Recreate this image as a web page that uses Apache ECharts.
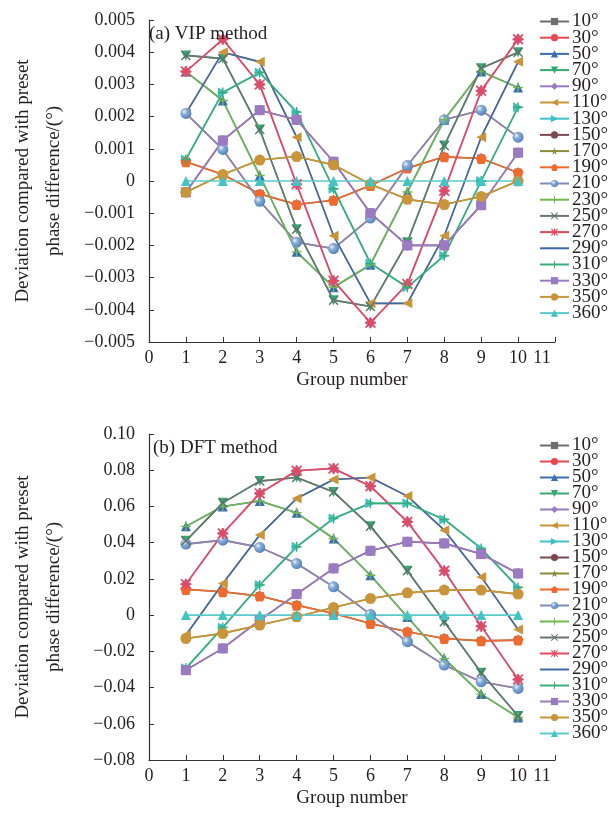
<!DOCTYPE html>
<html>
<head>
<meta charset="utf-8">
<script src="https://cdn.jsdelivr.net/npm/echarts@6/dist/echarts.min.js"></script>
<style>
  html, body { margin: 0; padding: 0; background: #fff; }
  #chart { width: 613px; height: 814px; }
</style>
</head>
<body>
<div id="chart"></div>
<script>
// Group numbers on the x axis
const groups = [1, 2, 3, 4, 5, 6, 7, 8, 9, 10];
// Preset phase differences (one series each)
const phaseNames = ['10°', '30°', '50°', '70°', '90°', '110°', '130°', '150°', '170°', '190°',
  '210°', '230°', '250°', '270°', '290°', '310°', '330°', '350°', '360°'];

// (a) VIP method: deviation per group; phases 180° apart give the same curve
const vip10_190 = [0.0006, 0.0002, -0.0004, -0.00073, -0.0006, -0.00014, 0.0004, 0.00075, 0.0007, 0.00026];
const vip30_210 = [0.0021, 0.00098, -0.00063, -0.0019, -0.0021, -0.00115, 0.00048, 0.0019, 0.0022, 0.00136];
const vip50_230 = [0.0034, 0.0025, 0.00017, -0.0022, -0.0033, -0.0026, -0.00034, 0.0019, 0.0034, 0.0029];
const vip70_250 = [0.0039, 0.0038, 0.0016, -0.0015, -0.0037, -0.0039, -0.0019, 0.0011, 0.0035, 0.0040];
const vip90_270 = [0.0034, 0.0044, 0.0030, -0.0001, -0.0031, -0.0044, -0.0032, -0.0003, 0.0028, 0.0044];
const vip110_290 = [0.0021, 0.0040, 0.0037, 0.00136, -0.0017, -0.0038, -0.0038, -0.0017, 0.00136, 0.0037];
const vip130_310 = [0.00067, 0.00275, 0.00337, 0.00214, -0.00024, -0.00256, -0.0033, -0.00232, 0.0000, 0.00229];
const vip150_330 = [-0.00035, 0.00126, 0.0022, 0.0019, 0.0006, -0.0010, -0.0020, -0.0020, -0.00075, 0.00088];
const vip170_350 = [-0.00035, 0.0002, 0.00065, 0.00076, 0.0005, -0.0001, -0.00057, -0.00073, -0.00048, 0.0000];
const vip360 = [0, 0, 0, 0, 0, 0, 0, 0, 0, 0];

// (b) DFT method
const dft10_190 = [0.0142, 0.0129, 0.0105, 0.0055, 0.0009, -0.0046, -0.0092, -0.0129, -0.0142, -0.0138];
const dft30_210 = [0.0392, 0.0414, 0.0374, 0.0285, 0.0156, 0.0004, -0.0147, -0.0276, -0.0368, -0.0405];
const dft50_230 = [0.049, 0.060, 0.063, 0.0565, 0.0423, 0.022, -0.001, -0.024, -0.0436, -0.0565];
const dft70_250 = [0.041, 0.062, 0.074, 0.076, 0.068, 0.049, 0.0245, -0.0037, -0.0318, -0.0557];
const dft90_270 = [0.0171, 0.0451, 0.0672, 0.0797, 0.081, 0.0712, 0.0515, 0.0245, -0.0061, -0.0355];
const dft110_290 = [-0.011, 0.0175, 0.0442, 0.0644, 0.0749, 0.076, 0.0657, 0.0469, 0.0211, -0.0079];
const dft130_310 = [-0.0294, -0.0068, 0.0166, 0.0377, 0.0534, 0.0617, 0.0617, 0.0528, 0.0368, 0.0153];
const dft150_330 = [-0.0304, -0.0184, -0.0028, 0.0116, 0.0258, 0.0355, 0.0405, 0.0396, 0.0337, 0.023];
const dft170_350 = [-0.0129, -0.0101, -0.0055, -0.0009, 0.0042, 0.0092, 0.0123, 0.0138, 0.0138, 0.0116];
const dft360 = [0, 0, 0, 0, 0, 0, 0, 0, 0, 0];

// Axis tick labels
const xTickLabels = ['0', '1', '2', '3', '4', '5', '6', '7', '8', '9', '10', '11'];
const vipTickLabels = ['−0.005', '−0.004', '−0.003', '−0.002', '−0.001', '0', '0.001', '0.002', '0.003', '0.004', '0.005'];
const dftTickLabels = ['−0.08', '−0.06', '−0.04', '−0.02', '0', '0.02', '0.04', '0.06', '0.08', '0.10'];

const vipSeriesData = [vip10_190, vip30_210, vip50_230, vip70_250, vip90_270, vip110_290, vip130_310, vip150_330, vip170_350,
  vip10_190, vip30_210, vip50_230, vip70_250, vip90_270, vip110_290, vip130_310, vip150_330, vip170_350, vip360];
const dftSeriesData = [dft10_190, dft30_210, dft50_230, dft70_250, dft90_270, dft110_290, dft130_310, dft150_330, dft170_350,
  dft10_190, dft30_210, dft50_230, dft70_250, dft90_270, dft110_290, dft130_310, dft150_330, dft170_350, dft360];

// Marker shapes
const SYM = {
  triDown: 'path://M0,0 L10,0 L5,10 Z',
  triLeft: 'path://M0,5 L10,0 L10,10 Z',
  triRight: 'path://M0,0 L10,5 L0,10 Z',
  star: 'path://M5,0 L6.2,3.6 L10,3.6 L6.9,5.9 L8.1,9.5 L5,7.3 L1.9,9.5 L3.1,5.9 L0,3.6 L3.8,3.6 Z',
  pentagon: 'path://M5,0 L10,3.8 L8.1,10 L1.9,10 L0,3.8 Z',
  plus: 'path://M4.3,0 H5.7 V4.3 H10 V5.7 H5.7 V10 H4.3 V5.7 H0 V4.3 H4.3 Z',
  cross: 'path://M1,0 L5,4 L9,0 L10,1 L6,5 L10,9 L9,10 L5,6 L1,10 L0,9 L4,5 L0,1 Z',
  asterisk: 'path://M4.2,0H5.8V10H4.2Z M0,4.2H10V5.8H0Z M1.1,0L10,8.9L8.9,10L0,1.1Z M8.9,0L10,1.1L1.1,10L0,8.9Z'
};

const shadedBlue = {
  type: 'radial', x: 0.35, y: 0.35, r: 0.75,
  colorStops: [{ offset: 0, color: '#eef4fb' }, { offset: 0.35, color: '#86acd6' }, { offset: 1, color: '#4a7db8' }]
};

// Per-series appearance, same order as phaseNames (290° is a plain line)
const styles = [
  { line: '#6e6e6e', mark: '#6e6e6e', symbol: 'rect', size: 8 },
  { line: '#e8474f', mark: '#e8474f', symbol: 'circle', size: 10 },
  { line: '#3b6db3', mark: '#3b6db3', symbol: 'triangle', size: 10 },
  { line: '#36a973', mark: '#36a973', symbol: SYM.triDown, size: 10 },
  { line: '#9a7bc2', mark: '#9a7bc2', symbol: 'diamond', size: 11 },
  { line: '#c8953a', mark: '#c8953a', symbol: SYM.triLeft, size: 10 },
  { line: '#3ec2c4', mark: '#3ec2c4', symbol: SYM.triRight, size: 10 },
  { line: '#7a4a4e', mark: '#7a4a4e', symbol: 'circle', size: 10 },
  { line: '#8c8a3a', mark: '#8c8a3a', symbol: SYM.star, size: 11 },
  { line: '#f06a2e', mark: '#f06a2e', symbol: SYM.pentagon, size: 11 },
  { line: '#7d8db8', mark: shadedBlue, symbol: 'circle', size: 11 },
  { line: '#72b84e', mark: '#72b84e', symbol: SYM.plus, size: 10 },
  { line: '#6b7570', mark: '#5f7068', symbol: SYM.cross, size: 10 },
  { line: '#e5485c', mark: '#e5485c', symbol: SYM.asterisk, size: 11 },
  { line: '#3c6aa8', mark: 'rgba(0,0,0,0)', symbol: 'circle', size: 1 },
  { line: '#3aad77', mark: '#3aad77', symbol: SYM.plus, size: 10 },
  { line: '#9a7bc2', mark: '#9a7bc2', symbol: 'rect', size: 10 },
  { line: '#c8953a', mark: '#c8953a', symbol: 'circle', size: 11 },
  { line: '#5ccacb', mark: '#44c3c5', symbol: 'triangle', size: 10 }
];

const FONT = '"Liberation Serif", "DejaVu Serif", serif';
const TEXT = '#231f20';

function buildSeries(axisIndex, seriesData) {
  return phaseNames.map(function (name, i) {
    const st = styles[i];
    return {
      name: name,
      type: 'line',
      xAxisIndex: axisIndex,
      yAxisIndex: axisIndex,
      data: groups.map(function (g, j) { return [g, seriesData[i][j]]; }),
      symbol: st.symbol,
      symbolSize: st.size,
      showAllSymbol: true,
      lineStyle: { color: st.line, width: 1.6 },
      itemStyle: { color: st.mark },
      emphasis: { disabled: true },
      animation: false
    };
  });
}

function tickFormatter(labels, min, step) {
  return function (v) {
    const idx = Math.round((v - min) / step);
    return labels[idx] !== undefined ? labels[idx] : '';
  };
}

function xAxisCfg(gridIndex) {
  return {
    type: 'value', gridIndex: gridIndex, min: 0, max: 11, interval: 1,
    name: 'Group number', nameLocation: 'middle', nameGap: 29,
    nameTextStyle: { fontFamily: FONT, fontSize: 19, color: TEXT },
    axisLine: { show: true, onZero: false, lineStyle: { color: '#333', width: 1.2 } },
    axisTick: { show: true, inside: true, length: 5, lineStyle: { color: '#333' } },
    axisLabel: {
      fontFamily: FONT, fontSize: 18, color: TEXT, margin: 7,
      formatter: function (v) {
        const i = Math.round(v);
        return i === xTickLabels.length - 1 ? '{last|' + xTickLabels[i] + '}' : xTickLabels[i];
      },
      rich: { last: { fontFamily: FONT, fontSize: 18, color: TEXT, padding: [0, 26, 0, 0] } }
    },
    splitLine: { show: false }
  };
}

function yAxisCfg(gridIndex, min, max, step, labels) {
  return {
    type: 'value', gridIndex: gridIndex, min: min, max: max, interval: step,
    name: 'Deviation compared with preset\nphase difference/(°)',
    nameLocation: 'middle', nameRotate: 90, nameGap: 79,
    nameTextStyle: { fontFamily: FONT, fontSize: 19, color: TEXT, lineHeight: 31, align: 'center' },
    axisLine: { show: true, onZero: false, lineStyle: { color: '#333', width: 1.2 } },
    axisTick: { show: true, inside: true, length: 5, lineStyle: { color: '#333' } },
    axisLabel: { fontFamily: FONT, fontSize: 18, color: TEXT, margin: 14,
      formatter: tickFormatter(labels, min, step) },
    splitLine: { show: false }
  };
}

function legendCfg(top, gap) {
  return {
    orient: 'vertical', left: 539, top: top, padding: 0, itemGap: gap,
    itemWidth: 29, itemHeight: 9,
    data: phaseNames,
    selectedMode: false,
    textStyle: { fontFamily: FONT, fontSize: 19, lineHeight: 19, color: TEXT, padding: [0, 0, 0, -2] }
  };
}

const chart = echarts.init(document.getElementById('chart'), null, { renderer: 'canvas' });
chart.setOption({
  backgroundColor: '#ffffff',
  animation: false,
  title: [
    { text: '(a) VIP method', left: 144, top: 20, textStyle: { fontFamily: FONT, fontSize: 19, fontWeight: 'normal', color: TEXT } },
    { text: '(b) DFT method', left: 148, top: 434, textStyle: { fontFamily: FONT, fontSize: 19, fontWeight: 'normal', color: TEXT } }
  ],
  grid: [
    { left: 141, top: 20, width: 414, height: 322 },
    { left: 141, top: 434, width: 414, height: 326 }
  ],
  legend: [legendCfg(12, -2.8), legendCfg(436, -3.0)],
  xAxis: [xAxisCfg(0), xAxisCfg(1)],
  yAxis: [
    yAxisCfg(0, -0.005, 0.005, 0.001, vipTickLabels),
    yAxisCfg(1, -0.08, 0.10, 0.02, dftTickLabels)
  ],
  series: buildSeries(0, vipSeriesData).concat(buildSeries(1, dftSeriesData))
});
</script>
</body>
</html>
